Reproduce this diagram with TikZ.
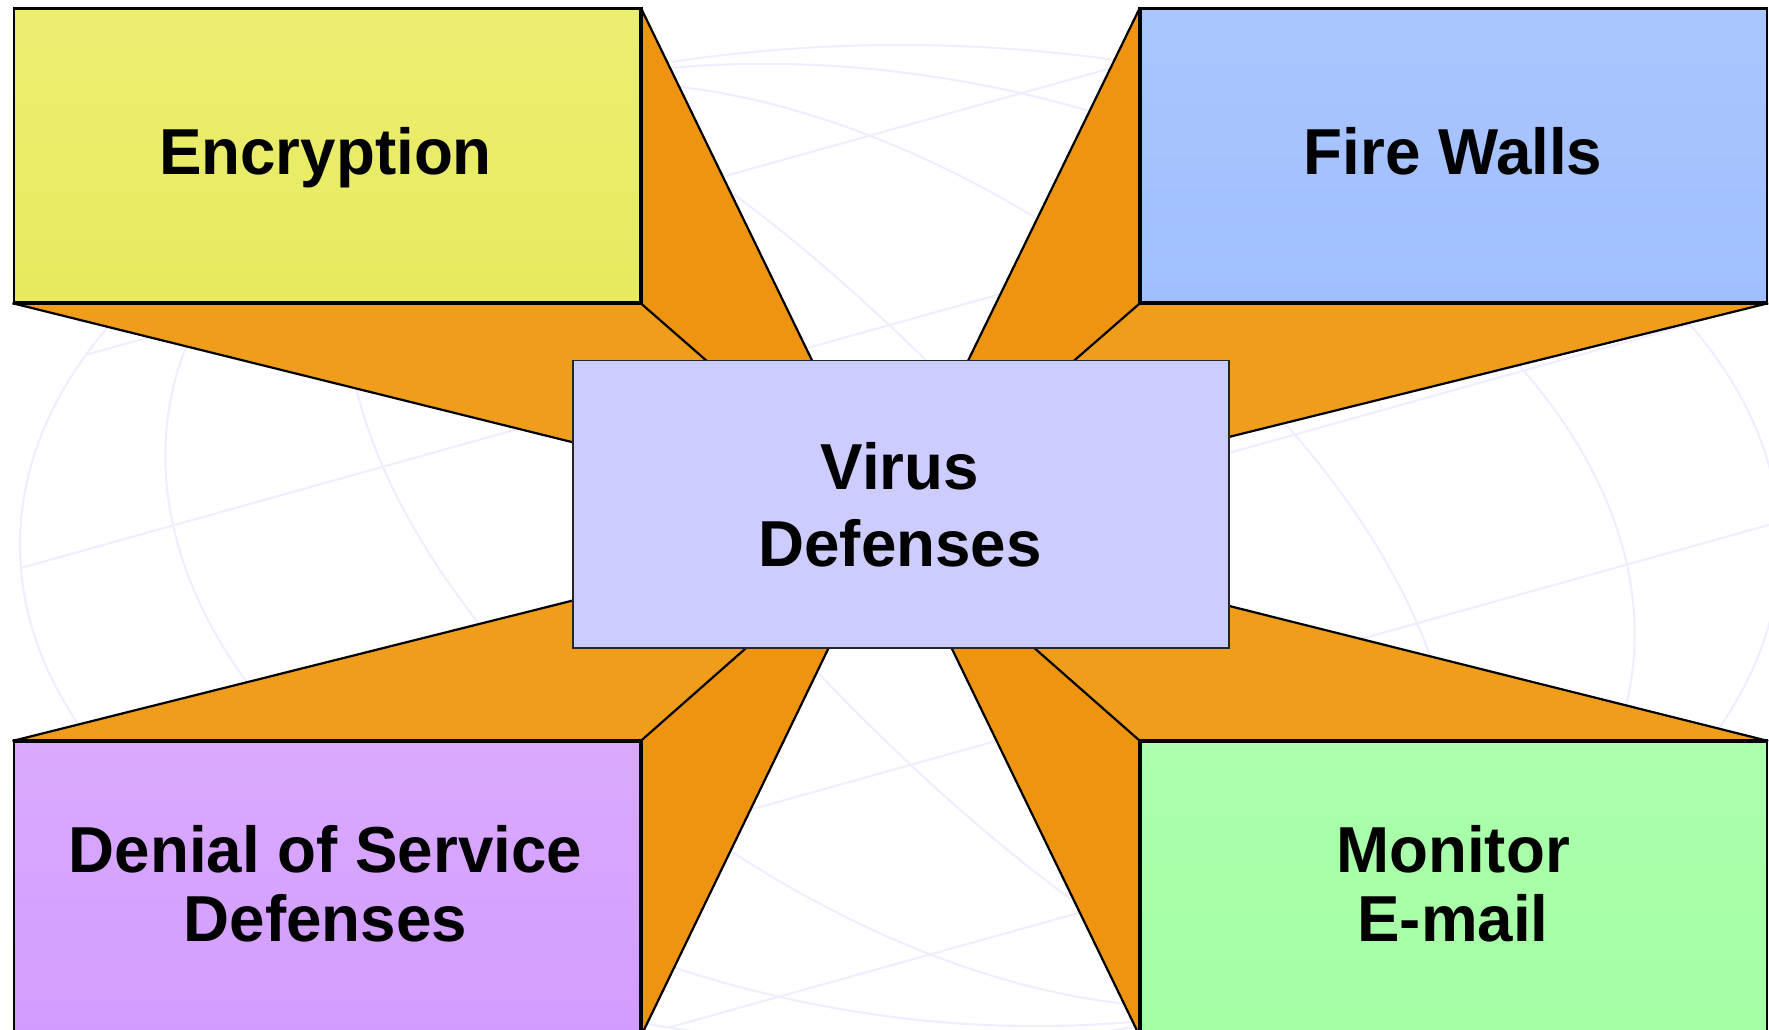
\documentclass[tikz,border=0pt]{standalone}
\usepackage{fontspec}
\newfontfamily\labelfont{Liberation Sans}[FakeStretch=0.98]
\pgfdeclarelayer{globelayer}
\pgfdeclarelayer{rays}
\pgfsetlayers{globelayer,rays,main}
\definecolor{gridc}{RGB}{238,238,255}
\definecolor{orlight}{RGB}{240,157,27}
\definecolor{ordark}{RGB}{238,148,16}
\definecolor{yeltop}{RGB}{236,238,114}
\definecolor{yelbot}{RGB}{231,234,94}
\definecolor{blutop}{RGB}{170,198,255}
\definecolor{blubot}{RGB}{161,190,255}
\definecolor{purtop}{RGB}{218,170,255}
\definecolor{purbot}{RGB}{210,156,255}
\definecolor{grntop}{RGB}{171,255,171}
\definecolor{grnbot}{RGB}{165,255,165}
\definecolor{ctrfill}{RGB}{204,204,255}
\tikzset{
  cornerbox/.style={draw=black, line width=2.2pt, anchor=north west, inner sep=0pt,
    minimum width=626pt, minimum height=293.5pt},
  centerbox/.style={draw=black!85, line width=1.6pt, fill=ctrfill, anchor=north west,
    inner sep=0pt, minimum width=656pt, minimum height=287.5pt},
  boxlabel/.style={anchor=base, inner sep=0pt,
    font=\labelfont\bfseries\fontsize{65}{78}\selectfont},
  rayedge/.style={draw=black, line width=2.2pt, line join=round},
  inneredge/.style={draw=black, line width=3.8pt, line join=miter},
  gridline/.style={draw=gridc, line width=2pt},
}
\begin{document}
\begin{tikzpicture}[x=1pt,y=-1pt]
\useasboundingbox (0,0) rectangle (1769,1030);

% corner boxes and centre box
\node[cornerbox, top color=yeltop, bottom color=yelbot] (enc) at (12.5,7.5) {};
\node[cornerbox, top color=blutop, bottom color=blubot] (fw) at (1140,7.5) {};
\node[cornerbox, top color=purtop, bottom color=purbot] (dos) at (12.5,741) {};
\node[cornerbox, top color=grntop, bottom color=grnbot] (mon) at (1140,741) {};
\coordinate (vp) at (890,521);

% thick edges next to the orange faces
\draw[inneredge] (enc.north east) -- (enc.south east) -- (enc.south west);
\draw[inneredge] (fw.north west) -- (fw.south west) -- (fw.south east);
\draw[inneredge] (dos.north west) -- (dos.north east) -- (dos.south east);
\draw[inneredge] (mon.north east) -- (mon.north west) -- (mon.south west);

\node[centerbox] (vir) at (572,359.5) {};

% labels
\node[boxlabel] (enc-l) at (325.5,175) {Encryption};
\node[boxlabel] (fw-l) at (1453,175) {Fire Walls};
\node[boxlabel] (vir-l1) at (900,489.3) {Virus};
\node[boxlabel] (vir-l2) at (900,566) {Defenses};
\node[boxlabel] (dos-l1) at (325.5,872.7) {Denial of Service};
\node[boxlabel] (dos-l2) at (325.5,941) {Defenses};
\node[boxlabel] (mon-l1) at (1453,872.7) {Monitor};
\node[boxlabel] (mon-l2) at (1453,941) {E-mail};

% orange perspective faces
\begin{pgfonlayer}{rays}
\fill[orlight] (enc.south west) -- (enc.south east) -- (vp) -- cycle;
\fill[ordark] (enc.north east) -- (enc.south east) -- (vp) -- cycle;
\fill[orlight] (fw.south west) -- (fw.south east) -- (vp) -- cycle;
\fill[ordark] (fw.north west) -- (fw.south west) -- (vp) -- cycle;
\fill[orlight] (dos.north west) -- (dos.north east) -- (vp) -- cycle;
\fill[ordark] (dos.north east) -- (dos.south east) -- (vp) -- cycle;
\fill[orlight] (mon.north west) -- (mon.north east) -- (vp) -- cycle;
\fill[ordark] (mon.north west) -- (mon.south west) -- (vp) -- cycle;
\draw[rayedge] (enc.south west) -- (vp);
\draw[rayedge] (enc.north east) -- (vp);
\draw[rayedge] (enc.south east) -- (vp);
\draw[rayedge] (fw.south east) -- (vp);
\draw[rayedge] (fw.north west) -- (vp);
\draw[rayedge] (fw.south west) -- (vp);
\draw[rayedge] (dos.north west) -- (vp);
\draw[rayedge] (dos.south east) -- (vp);
\draw[rayedge] (dos.north east) -- (vp);
\draw[rayedge] (mon.north east) -- (vp);
\draw[rayedge] (mon.south west) -- (vp);
\draw[rayedge] (mon.north west) -- (vp);
\end{pgfonlayer}

% faint globe in the background
\begin{pgfonlayer}{globelayer}
\fill[white] (0,0) rectangle (1769,1030);
\begin{scope}[gridline]
\draw (900,545) ellipse [x radius=880, y radius=500];
\foreach \k in {-0.79,-0.5,-0.2,0.2,0.5,0.79}
  \draw plot[domain=-90:90, samples=73, variable=\t, smooth]
    ({900+(\k)*cos(\t)*789.4+sin(\t)*388.5},{545-(\k)*cos(\t)*220.75+sin(\t)*448.5});
\foreach \h in {-0.75,-0.4,0,0.4,0.75}
  \draw ({900+(\h)*388.5-sqrt(1-(\h)*(\h))*789.4},{545+(\h)*448.5+sqrt(1-(\h)*(\h))*220.75})
     -- ({900+(\h)*388.5+sqrt(1-(\h)*(\h))*789.4},{545+(\h)*448.5-sqrt(1-(\h)*(\h))*220.75});
\end{scope}
\end{pgfonlayer}
\end{tikzpicture}
\end{document}
